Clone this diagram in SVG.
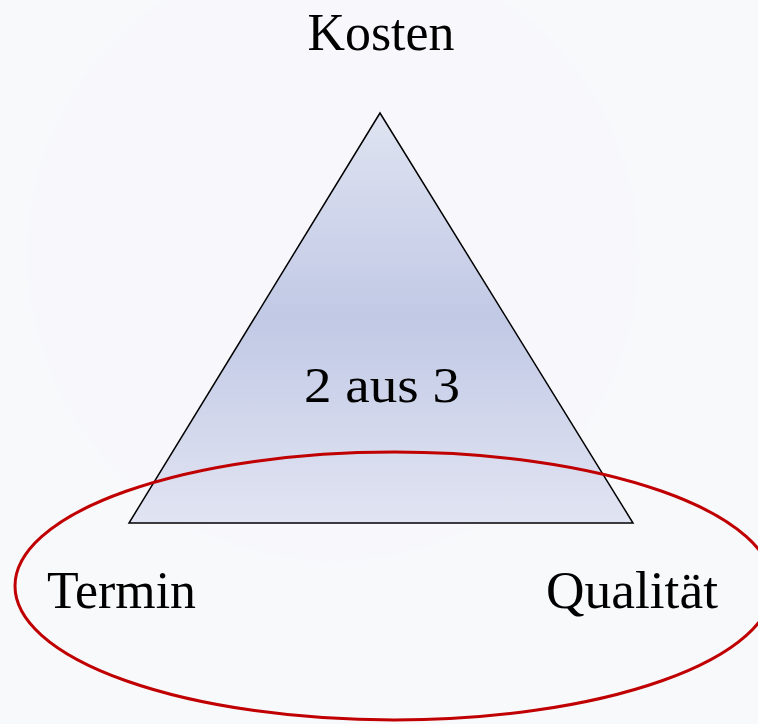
<svg xmlns="http://www.w3.org/2000/svg" width="758" height="724" viewBox="0 0 758 724">
<defs>
<linearGradient id="tri" x1="0" y1="113" x2="0" y2="523" gradientUnits="userSpaceOnUse">
<stop offset="0" stop-color="#dfe3f1"/>
<stop offset="0.5" stop-color="#c1c9e5"/>
<stop offset="1" stop-color="#e1e4f2"/>
</linearGradient>
<radialGradient id="bg" cx="333" cy="255" r="310" gradientUnits="userSpaceOnUse">
<stop offset="0" stop-color="#f7f7fc"/>
<stop offset="0.96" stop-color="#f7f7fc"/>
<stop offset="1" stop-color="#f8f9fb"/>
</radialGradient>
<style>
.lbl{font-family:"Liberation Serif","DejaVu Serif",serif;fill:#000;}
</style>
</defs>
<rect width="758" height="724" fill="#f8f9fb"/>
<circle cx="333" cy="255" r="310" fill="url(#bg)"/>
<g id="triangle">
<polygon points="380,113 129,523 633,523" fill="url(#tri)" stroke="#000" stroke-width="1.5"/>
</g>
<g id="center-label">
<text class="lbl" x="382" y="402" font-size="50" text-anchor="middle" textLength="156" lengthAdjust="spacingAndGlyphs">2 aus 3</text>
</g>
<g id="kosten">
<text class="lbl" x="381" y="50" font-size="52" text-anchor="middle" textLength="147" lengthAdjust="spacingAndGlyphs">Kosten</text>
</g>
<g id="termin">
<text class="lbl" x="47" y="608" font-size="52" textLength="149" lengthAdjust="spacingAndGlyphs">Termin</text>
</g>
<g id="qualitaet">
<text class="lbl" x="546" y="608" font-size="52" textLength="172" lengthAdjust="spacingAndGlyphs">Qualität</text>
</g>
<g id="connectors">
<ellipse cx="394" cy="586" rx="379" ry="134" fill="none" stroke="#c00000" stroke-width="3"/>
</g>
</svg>
